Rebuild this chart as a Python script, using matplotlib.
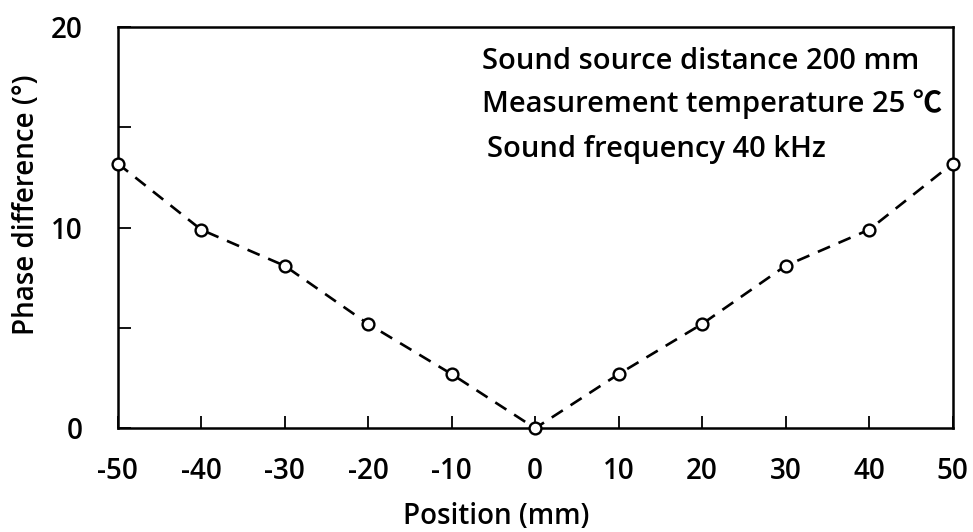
import matplotlib
matplotlib.use("Agg")
import matplotlib.pyplot as plt
from matplotlib.ticker import MultipleLocator

positions = [-50, -40, -30, -20, -10, 0, 10, 20, 30, 40, 50]
phase_diff = [13.2, 9.9, 8.1, 5.2, 2.7, 0.0, 2.7, 5.2, 8.1, 9.9, 13.2]
x_ticks = [-50, -40, -30, -20, -10, 0, 10, 20, 30, 40, 50]
y_ticks = [0, 10, 20]
notes = ["Sound source distance 200 mm",
         "Measurement temperature 25 \u2103",
         "Sound frequency 40 kHz"]

plt.rcParams['font.family'] = ['Open Sans', 'Noto Sans CJK SC', 'DejaVu Sans']
plt.rcParams['font.weight'] = 600
plt.rcParams['axes.labelweight'] = 600
plt.rcParams['axes.unicode_minus'] = False

fig = plt.figure(figsize=(9.73, 5.32), dpi=100)
ax = fig.add_axes([0.121, 0.195, 0.858, 0.754])

ax.plot(positions, phase_diff, linestyle=(0, (5, 3.5)), color='black', lw=1.9,
        marker='o', markersize=8.5, markerfacecolor='white', markeredgecolor='black',
        markeredgewidth=1.7, clip_on=False, zorder=3)

ax.set_xlim(-50, 50)
ax.set_ylim(0, 20)
ax.set_xticks(x_ticks)
ax.set_yticks(y_ticks)
ax.yaxis.set_minor_locator(MultipleLocator(5))
ax.tick_params(axis='both', which='both', direction='in', labelsize=20)
ax.tick_params(axis='x', which='major', length=9, width=1.3, pad=21)
ax.tick_params(axis='y', which='major', length=9, width=1.3, pad=25)
ax.tick_params(axis='y', which='minor', length=9, width=1.3)
for s in ax.spines.values():
    s.set_linewidth(1.8)

ax.set_xlabel("Position (mm)", fontsize=20)
ax.set_ylabel("Phase difference (\u00b0)", fontsize=20)
ax.xaxis.set_label_coords(0.453, -0.185)
ax.yaxis.set_label_coords(-0.092, 0.556)

ax.text(0.436, 0.915, notes[0], transform=ax.transAxes, fontsize=21, va='center', ha='left')
ax.text(0.436, 0.808, notes[1], transform=ax.transAxes, fontsize=21, va='center', ha='left')
ax.text(0.442, 0.696, notes[2], transform=ax.transAxes, fontsize=21, va='center', ha='left')

fig.savefig("out.png", dpi=100)
